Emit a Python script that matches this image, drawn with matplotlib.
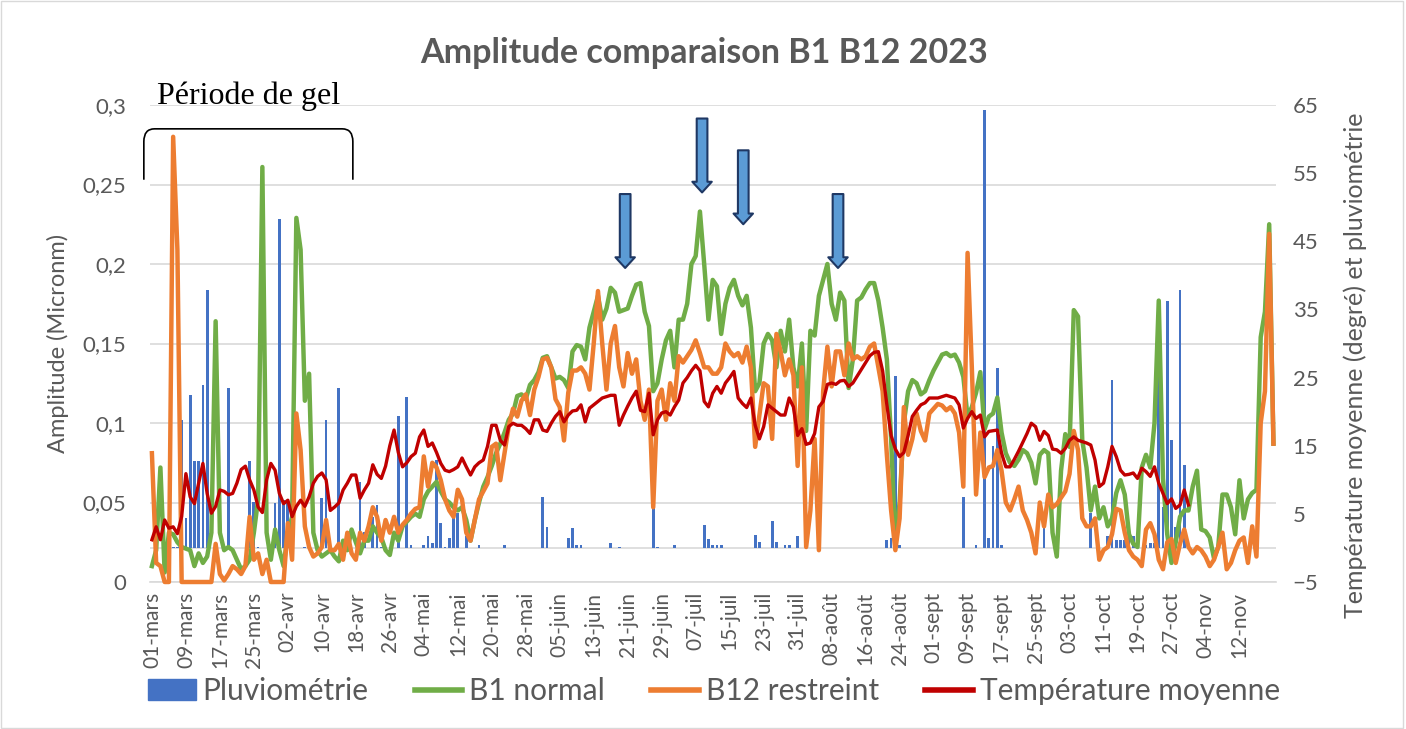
import numpy as np
import pandas as pd
import matplotlib
matplotlib.use("Agg")
import matplotlib.pyplot as plt
from matplotlib.path import Path
from matplotlib.patches import PathPatch, Rectangle, Patch
from matplotlib.lines import Line2D
from matplotlib.transforms import blended_transform_factory

# amplitude journaliere (micron) du 01-mars au 20-nov 2023
b1_normal = [
    0.010, 0.020, 0.072, 0.006, 0.031, 0.030, 0.025, 0.022, 0.021, 0.020,
    0.010, 0.018, 0.012, 0.016, 0.031, 0.164, 0.031, 0.020, 0.022, 0.020,
    0.014, 0.008, 0.010, 0.014, 0.031, 0.052, 0.261, 0.031, 0.014, 0.033,
    0.020, 0.010, 0.031, 0.041, 0.229, 0.209, 0.114, 0.131, 0.031, 0.020,
    0.016, 0.018, 0.020, 0.016, 0.013, 0.026, 0.020, 0.033, 0.025, 0.018,
    0.026, 0.026, 0.035, 0.031, 0.028, 0.020, 0.017, 0.031, 0.026, 0.035,
    0.038, 0.041, 0.043, 0.041, 0.052, 0.057, 0.060, 0.063, 0.057, 0.052,
    0.050, 0.047, 0.045, 0.047, 0.039, 0.026, 0.039, 0.050, 0.060, 0.066,
    0.073, 0.081, 0.087, 0.094, 0.102, 0.106, 0.117, 0.118, 0.115, 0.124,
    0.127, 0.132, 0.141, 0.142, 0.135, 0.128, 0.129, 0.127, 0.122, 0.145,
    0.149, 0.148, 0.140, 0.160, 0.170, 0.180, 0.165, 0.172, 0.185, 0.182,
    0.170, 0.171, 0.172, 0.180, 0.187, 0.188, 0.170, 0.161, 0.120, 0.125,
    0.140, 0.152, 0.158, 0.135, 0.165, 0.165, 0.175, 0.200, 0.205, 0.233,
    0.200, 0.165, 0.190, 0.186, 0.156, 0.175, 0.185, 0.190, 0.180, 0.174,
    0.180, 0.160, 0.120, 0.125, 0.150, 0.156, 0.152, 0.135, 0.158, 0.145,
    0.165, 0.135, 0.123, 0.150, 0.095, 0.158, 0.155, 0.180, 0.190, 0.200,
    0.175, 0.165, 0.182, 0.177, 0.122, 0.140, 0.177, 0.179, 0.184, 0.188,
    0.188, 0.177, 0.160, 0.140, 0.090, 0.024, 0.050, 0.100, 0.120, 0.127,
    0.125, 0.118, 0.120, 0.127, 0.133, 0.138, 0.143, 0.144, 0.142, 0.143,
    0.138, 0.129, 0.104, 0.110, 0.119, 0.132, 0.096, 0.104, 0.106, 0.116,
    0.094, 0.081, 0.075, 0.073, 0.077, 0.083, 0.081, 0.075, 0.062, 0.080,
    0.083, 0.081, 0.031, 0.016, 0.070, 0.093, 0.085, 0.171, 0.167, 0.089,
    0.072, 0.045, 0.060, 0.040, 0.047, 0.035, 0.040, 0.056, 0.064, 0.055,
    0.030, 0.024, 0.022, 0.072, 0.080, 0.072, 0.100, 0.177, 0.065, 0.030,
    0.012, 0.025, 0.041, 0.045, 0.045, 0.060, 0.070, 0.033, 0.032, 0.028,
    0.015, 0.022, 0.055, 0.055, 0.047, 0.030, 0.064, 0.040, 0.052, 0.056,
    0.058, 0.154, 0.170, 0.225, 0.087,
]

b12_restreint = [
    0.081, 0.012, 0.010, 0.000, 0.000, 0.280, 0.209, 0.000, 0.000, 0.000,
    0.000, 0.000, 0.000, 0.000, 0.000, 0.024, 0.005, 0.001, 0.005, 0.010,
    0.008, 0.005, 0.010, 0.041, 0.014, 0.018, 0.005, 0.014, 0.000, 0.000,
    0.000, 0.000, 0.037, 0.014, 0.106, 0.083, 0.035, 0.022, 0.016, 0.018,
    0.022, 0.039, 0.020, 0.020, 0.024, 0.014, 0.031, 0.018, 0.014, 0.031,
    0.026, 0.035, 0.047, 0.041, 0.026, 0.039, 0.031, 0.041, 0.031, 0.036,
    0.039, 0.043, 0.046, 0.047, 0.079, 0.060, 0.075, 0.072, 0.064, 0.052,
    0.045, 0.041, 0.058, 0.052, 0.031, 0.026, 0.039, 0.052, 0.057, 0.062,
    0.085, 0.087, 0.064, 0.081, 0.098, 0.109, 0.104, 0.114, 0.118, 0.105,
    0.121, 0.129, 0.140, 0.141, 0.135, 0.115, 0.110, 0.089, 0.119, 0.133,
    0.133, 0.135, 0.131, 0.121, 0.150, 0.183, 0.150, 0.121, 0.150, 0.161,
    0.135, 0.123, 0.144, 0.131, 0.140, 0.114, 0.102, 0.121, 0.047, 0.114,
    0.121, 0.102, 0.125, 0.114, 0.142, 0.138, 0.142, 0.146, 0.152, 0.144,
    0.135, 0.135, 0.131, 0.131, 0.135, 0.150, 0.145, 0.142, 0.144, 0.138,
    0.148, 0.135, 0.085, 0.105, 0.125, 0.123, 0.090, 0.156, 0.145, 0.130,
    0.140, 0.130, 0.073, 0.135, 0.022, 0.045, 0.090, 0.020, 0.120, 0.148,
    0.123, 0.145, 0.145, 0.130, 0.150, 0.140, 0.142, 0.140, 0.142, 0.148,
    0.150, 0.135, 0.120, 0.080, 0.045, 0.020, 0.040, 0.110, 0.080, 0.090,
    0.106, 0.095, 0.089, 0.106, 0.109, 0.112, 0.111, 0.108, 0.110, 0.106,
    0.094, 0.060, 0.207, 0.135, 0.055, 0.094, 0.066, 0.072, 0.073, 0.083,
    0.070, 0.050, 0.045, 0.052, 0.060, 0.045, 0.039, 0.031, 0.018, 0.050,
    0.035, 0.055, 0.047, 0.049, 0.053, 0.057, 0.068, 0.095, 0.083, 0.040,
    0.035, 0.035, 0.040, 0.014, 0.020, 0.022, 0.030, 0.046, 0.045, 0.031,
    0.020, 0.016, 0.014, 0.010, 0.033, 0.037, 0.030, 0.014, 0.008, 0.025,
    0.027, 0.012, 0.024, 0.033, 0.022, 0.018, 0.022, 0.020, 0.016, 0.010,
    0.014, 0.022, 0.031, 0.008, 0.012, 0.020, 0.026, 0.028, 0.012, 0.035,
    0.016, 0.100, 0.120, 0.219, 0.087,
]

# temperature moyenne (degre), pas de mesure apres le 31-oct
temperature = [
    1.2, 3.1, 1.2, 4.1, 2.9, 3.1, 2.1, 4.6, 10.9, 7.5,
    6.5, 9.5, 12.4, 8.0, 5.1, 6.1, 8.5, 8.3, 7.8, 8.0,
    9.5, 11.5, 12.0, 10.0, 8.5, 6.0, 5.2, 10.0, 12.4, 11.4,
    8.0, 6.5, 7.0, 4.6, 6.1, 7.0, 6.1, 7.5, 9.5, 10.5,
    11.0, 10.0, 5.5, 6.0, 6.6, 8.5, 9.5, 10.7, 10.7, 7.3,
    8.5, 9.5, 12.2, 10.8, 10.2, 12.0, 15.0, 17.3, 14.0, 11.9,
    12.5, 13.4, 13.9, 16.3, 17.3, 14.9, 15.4, 14.0, 12.4, 11.4,
    11.2, 11.5, 11.9, 13.2, 11.9, 10.7, 11.9, 12.5, 12.9, 14.9,
    18.0, 18.0, 15.8, 15.1, 17.8, 18.3, 18.0, 18.0, 17.5, 16.8,
    18.8, 18.8, 17.3, 17.1, 18.3, 19.3, 20.0, 18.5, 19.5, 20.1,
    20.2, 21.0, 18.5, 20.5, 21.0, 21.5, 22.0, 22.2, 22.4, 22.4,
    18.0, 19.5, 20.8, 22.0, 23.0, 20.2, 20.0, 22.7, 16.6, 18.8,
    19.8, 20.0, 19.5, 20.7, 21.7, 24.2, 25.0, 26.0, 26.8, 26.0,
    21.5, 20.7, 22.7, 23.7, 22.7, 24.2, 25.0, 25.9, 22.0, 21.2,
    20.6, 22.0, 18.0, 16.0, 17.8, 21.0, 20.5, 20.0, 19.5, 19.5,
    22.0, 20.7, 16.5, 17.5, 15.2, 15.4, 16.8, 20.7, 21.5, 24.0,
    24.2, 24.0, 24.5, 24.6, 23.7, 24.2, 25.2, 26.2, 27.2, 28.2,
    28.7, 28.8, 26.0, 21.0, 16.5, 14.5, 13.4, 14.0, 16.5, 19.3,
    20.2, 21.0, 21.3, 22.0, 22.0, 22.0, 22.2, 22.4, 22.2, 22.0,
    21.0, 17.6, 19.0, 20.0, 19.0, 19.5, 16.3, 17.1, 17.2, 17.3,
    13.9, 11.9, 11.9, 13.0, 14.2, 15.5, 16.8, 18.3, 17.8, 15.8,
    17.1, 16.5, 14.5, 14.4, 13.9, 14.6, 15.8, 16.3, 15.8, 15.6,
    15.4, 15.1, 12.9, 9.0, 9.5, 11.9, 14.9, 13.4, 11.4, 10.7,
    10.8, 11.0, 10.2, 11.7, 11.2, 10.5, 11.9, 9.5, 8.0, 6.5,
    7.2, 5.8, 6.3, 8.5, 6.3, None, None, None, None, None,
    None, None, None, None, None, None, None, None, None, None,
    None, None, None, None, None,
]

# pluviometrie (mm)
pluviometrie = [
    0, 0, 0, 0, 0, 0.2, 0.2, 18.8, 4.4, 22.5,
    12.7, 12.7, 23.9, 37.9, 0, 0, 0, 0, 23.4, 0,
    0, 0, 0, 12.7, 6.8, 0.2, 0, 0, 0, 6.6,
    48.3, 7.0, 7.0, 0, 0, 0, 0.2, 0, 0, 0,
    7.3, 18.8, 0, 0, 23.4, 0, 0, 0, 0, 9.7,
    2.4, 0, 4.6, 6.3, 0.2, 0, 0, 0, 19.3, 0,
    22.2, 0.4, 0, 0, 0.4, 1.7, 0.7, 12.9, 3.6, 0.2,
    1.4, 5.1, 5.1, 0, 1.7, 0, 0, 0.4, 0, 0,
    0, 0, 0, 0.4, 0, 0, 0, 0, 0, 0,
    0, 0, 7.5, 3.1, 0, 0, 0, 0, 1.4, 2.9,
    0.4, 0.4, 0, 0, 0, 0, 0, 0, 0.7, 0,
    0.2, 0, 0, 0, 0, 0, 0, 0, 5.8, 0.2,
    0, 0, 0, 0.4, 0, 0, 0, 0, 0, 0,
    3.4, 1.3, 0.4, 0.4, 0.4, 0, 0, 0, 0, 0,
    0, 0, 1.9, 0.9, 0, 0, 3.9, 0.9, 0, 0.4,
    0.4, 0, 1.7, 0, 2.6, 0, 0, 0, 0, 0,
    0, 0, 0, 0, 0, 0, 0, 0, 0, 0,
    0, 0, 0, 1.2, 1.5, 25.2, 0.4, 0, 0, 0,
    0, 0, 0, 0, 0, 0, 0, 0, 0, 0,
    0, 7.5, 0, 0, 0.4, 0, 64.3, 1.4, 15.0, 26.4,
    0.4, 0, 0, 0, 0, 0, 0, 0, 0, 0,
    3.6, 0, 0, 0, 0, 0, 0, 0, 0, 0,
    0, 5.1, 0, 0, 0, 1.7, 24.7, 1.2, 1.2, 1.2,
    1.7, 1.7, 1.2, 0, 0.4, 0.7, 0.7, 34.2, 6.0, 36.2,
    15.9, 3.0, 37.9, 12.2, 0, 0, 0, 0, 0, 0,
    0, 0, 0, 0, 0, 0, 0, 0, 0, 0,
    0, 0, 0, 0, 0,
]

amp_ticks = [0, 0.05, 0.1, 0.15, 0.2, 0.25, 0.3]
amp_labels = ["0", "0,05", "0,1", "0,15", "0,2", "0,25", "0,3"]
temp_ticks = [-5, 5, 15, 25, 35, 45, 55, 65]
mois_fr = {3: "mars", 4: "avr", 5: "mai", 6: "juin", 7: "juil",
           8: "août", 9: "sept", 10: "oct", 11: "nov"}

# annotations : fleches (jour, amplitude de la pointe) et periode de gel
fleches_jour = [111.4, 129.5, 139.2, 161.5]
fleches_pointe = [0.1975, 0.245, 0.225, 0.1975]
gel_jours = (-1.9, 47.3)
gel_amp = (0.253, 0.285)

GRIS = "#595959"
GRILLE = "#d9d9d9"
plt.rcParams["font.family"] = ["Lato", "DejaVu Sans"]

jours = pd.date_range("2023-03-01", periods=len(b1_normal), freq="D")
x = np.arange(len(jours))
temp = np.array(temperature, dtype=float)

fig = plt.figure(figsize=(14.06, 7.29), dpi=100)
ax = fig.add_axes([150 / 1406, 1 - 582 / 729, 1126 / 1406, 477 / 729])
ax2 = ax.twinx()
ax.set_xlim(-0.45, 264.6)
ax.set_ylim(0, 0.3)
ax2.set_ylim(-5, 65)

# tout est dessine dans ax pour garder l'ordre Excel, echelle droite via ax2
bars = ax.bar(x, pluviometrie, width=0.65, color="#4472C4",
              transform=ax2.transData, zorder=2)
ax.hlines(0, 0, 1, color=GRILLE, lw=1.2, zorder=1,
          transform=blended_transform_factory(ax.transAxes, ax2.transData))
l1, = ax.plot(x, b1_normal, color="#70AD47", lw=3.2, zorder=3,
              solid_joinstyle="round", clip_on=False)
l2, = ax.plot(x, b12_restreint, color="#ED7D31", lw=3.2, zorder=4,
              solid_joinstyle="round", clip_on=False)
l3, = ax.plot(x, temp, color="#C00000", lw=2.4, zorder=5,
              transform=ax2.transData, solid_joinstyle="round")

ax.set_yticks(amp_ticks)
ax.set_yticklabels(amp_labels)
ax.grid(axis="y", color=GRILLE, lw=1.2)
ax.set_axisbelow(True)
# une etiquette tous les 8 jours, jusqu'au 12-nov
ax.set_xticks(x[:-1:8])
ax.set_xticklabels([f"{d.day:02d}-{mois_fr[d.month]}" for d in jours[:-1:8]],
                   rotation=90)
ax.tick_params(axis="x", length=0, pad=7, labelsize=15, labelcolor=GRIS)
ax.tick_params(axis="y", length=0, pad=17, labelsize=16, labelcolor=GRIS)
ax2.set_yticks(temp_ticks)
ax2.tick_params(axis="y", length=0, pad=12, labelsize=16, labelcolor=GRIS)
for a in (ax, ax2):
    for s in a.spines.values():
        s.set_visible(False)
ax.spines["bottom"].set_visible(True)
ax.spines["bottom"].set_color(GRILLE)
ax.spines["bottom"].set_linewidth(1.2)

# fleches bleues
for fx, fy in zip(fleches_jour, fleches_pointe):
    ax.annotate("", xy=(fx, fy), xytext=(fx, fy + 0.0465),
                arrowprops=dict(arrowstyle="simple,head_length=0.55,head_width=1.0,tail_width=0.55",
                                mutation_scale=14, fc="#5B9BD5", ec="#1F3864",
                                lw=1.5, shrinkA=0, shrinkB=0),
                zorder=6, annotation_clip=False)

# accolade "Periode de gel"
x0, x1 = gel_jours
yb, yt = gel_amp
rx, ry = 2.5, 0.008
verts = [(x0, yb), (x0, yt - ry), (x0, yt), (x0 + rx, yt),
         (x1 - rx, yt), (x1, yt), (x1, yt - ry), (x1, yb)]
codes = [Path.MOVETO, Path.LINETO, Path.CURVE3, Path.CURVE3,
         Path.LINETO, Path.CURVE3, Path.CURVE3, Path.LINETO]
ax.add_patch(PathPatch(Path(verts, codes), fill=False, ec="black", lw=1.2,
                       clip_on=False, zorder=6))
ax.text((x0 + x1) / 2, 0.3058, "Période de gel", ha="center", va="center",
        fontsize=23, family="Liberation Serif", color="black", clip_on=False)

fig.text(704 / 1406, 1 - 53 / 729, "Amplitude comparaison B1 B12 2023",
         ha="center", va="center", fontsize=24.5, fontweight="bold", color=GRIS)
fig.text(58 / 1406, 1 - 343 / 729, "Amplitude (Micronm)", rotation=90,
         ha="center", va="center", fontsize=17, color=GRIS)
fig.text(1355 / 1406, 1 - 365 / 729, "Température moyenne (degré) et pluviométrie",
         rotation=90, ha="center", va="center", fontsize=18, color=GRIS)

handles = [Patch(color="#4472C4"),
           Line2D([], [], color="#70AD47", lw=4),
           Line2D([], [], color="#ED7D31", lw=4),
           Line2D([], [], color="#C00000", lw=4)]
labels = ["Pluviométrie", "B1 normal", "B12 restreint", "Température moyenne"]
leg = fig.legend(handles, labels, ncol=4, loc="center",
                 bbox_to_anchor=(0.5078, 1 - 691 / 729), frameon=False,
                 fontsize=21.5, handlelength=1.6, handleheight=0.7,
                 handletextpad=0.23, columnspacing=1.55)
for t in leg.get_texts():
    t.set_color(GRIS)

fig.add_artist(Rectangle((0.001, 0.002), 0.997, 0.996, transform=fig.transFigure,
                         fill=False, ec=GRILLE, lw=1))

fig.savefig("out.png", dpi=100)
